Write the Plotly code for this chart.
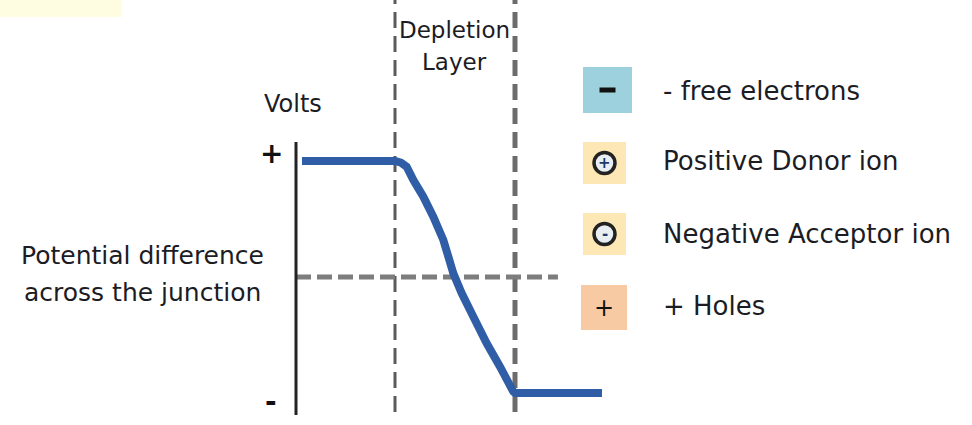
import plotly.graph_objects as go

# ---------------- data ----------------
position = [0.225, 1.0, 1.05, 1.097, 1.153, 1.236, 1.319, 1.403, 1.486, 1.556, 1.653,
            1.764, 1.875, 1.986, 2.0, 2.725]
potential = [1.0, 1.0, 0.985, 0.951, 0.836, 0.692, 0.520, 0.319, 0.032, -0.141, -0.342,
             -0.572, -0.773, -0.989, -1.0, -1.0]
depletion_edges = [1.0, 2.0]
axis_x = 0.175
zero_line_end = 2.358

y_labels = ["+", "-"]
side_label = ["Potential difference", "across the junction"]
axis_title = "Volts"
region_label = ["Depletion", "Layer"]

legend_labels = ["- free electrons", "Positive Donor ion", "Negative Acceptor ion", "+ Holes"]
legend_fills = ["#9ed1de", "#fde7b4", "#fde7b4", "#f7caa4"]
legend_symbols = ["-", "+", "-", "+"]

# ---------------- layout helpers ----------------
W, H = 972, 425
FONT = "DejaVu Sans"
TXT = "#1c1c24"


def fx(p):
    return p / W


def fy(q):
    return 1 - q / H


def label(x, y, text, size, color=TXT, xanchor="center"):
    return dict(xref="paper", yref="paper", x=fx(x), y=fy(y), text=text, showarrow=False,
                xanchor=xanchor, yanchor="middle", font=dict(family=FONT, size=size, color=color))


fig = go.Figure()
fig.add_trace(go.Scatter(
    x=position, y=potential, mode="lines",
    line=dict(color="#2f5da6", width=8, shape="linear", simplify=False),
    hoverinfo="skip", showlegend=False,
))

shapes = []
annotations = []

# top-left pale box
shapes.append(dict(type="rect", xref="paper", yref="paper", x0=0, x1=fx(122), y0=fy(17), y1=1,
                   fillcolor="#fffde1", line=dict(width=0), layer="below"))

# depletion boundaries
for i, xe in enumerate(depletion_edges):
    shapes.append(dict(type="line", xref="x", yref="y", x0=xe, x1=xe, y0=-1.164, y1=2.5,
                       line=dict(color="#5a5a5a" if i == 0 else "#6c6c6c", width=3 if i == 0 else 5,
                                 dash="16px,8px"), layer="below"))

# zero potential line
shapes.append(dict(type="line", xref="x", yref="y", x0=axis_x, x1=zero_line_end, y0=0, y1=0,
                   line=dict(color="#7d7d7d", width=5, dash="15px,6px"), layer="below"))

# vertical axis line
shapes.append(dict(type="line", xref="x", yref="y", x0=axis_x, x1=axis_x, y0=-1.19, y1=1.164,
                   line=dict(color="#222222", width=3)))

# axis labels
annotations.append(label(293, 104, axis_title, 24))
for lab, q in zip(y_labels, [153, 401]):
    annotations.append(label(271, q, "<b>%s</b>" % lab, 28, "#111111"))
for lab, q in zip(side_label, [256, 292]):
    annotations.append(label(142, q, lab, 25))
for lab, q in zip(region_label, [30, 62]):
    annotations.append(label(454, q, lab, 23))

# legend
box_x = [(583, 632), (583, 626), (583, 626), (581, 627)]
box_y = [(67, 113), (142, 184), (213, 255), (285, 330)]
text_y = [91, 161, 234, 306]
for i, (lab, fill, sym) in enumerate(zip(legend_labels, legend_fills, legend_symbols)):
    (a, b), (c, d) = box_x[i], box_y[i]
    shapes.append(dict(type="rect", xref="paper", yref="paper", x0=fx(a), x1=fx(b), y0=fy(d), y1=fy(c),
                       fillcolor=fill, line=dict(width=0), layer="below"))
    cx, cy = (a + b) / 2, (c + d) / 2
    if i in (1, 2):
        r = 10.5
        shapes.append(dict(type="circle", xref="paper", yref="paper",
                           x0=fx(cx - r), x1=fx(cx + r), y0=fy(cy + r), y1=fy(cy - r),
                           fillcolor="#e8eef2", line=dict(color="#222222", width=3.5)))
        annotations.append(label(cx, cy, "<b>%s</b>" % sym, 15, "#1a3a6a"))
    elif i == 0:
        shapes.append(dict(type="rect", xref="paper", yref="paper",
                           x0=fx(cx - 8), x1=fx(cx + 8), y0=fy(cy + 2.5), y1=fy(cy - 2.5),
                           fillcolor="#111111", line=dict(width=0)))
    else:
        annotations.append(label(cx, cy, sym, 24, "#111111"))
    annotations.append(label(661, text_y[i], lab, 26, TXT, xanchor="left"))

# map data coordinates onto the page: 120 px per unit in x, 116 px per unit in y
x_range = [1 - 395 / 120, 1 + (W - 395) / 120]
y_range = [(277 - H) / 116, 277 / 116]

fig.update_layout(
    width=W, height=H, margin=dict(l=0, r=0, t=0, b=0),
    paper_bgcolor="white", plot_bgcolor="white",
    xaxis=dict(range=x_range, visible=False, fixedrange=True),
    yaxis=dict(range=y_range, visible=False, fixedrange=True),
    shapes=shapes, annotations=annotations, showlegend=False,
)

fig.write_html("out.html", config={"displayModeBar": False, "staticPlot": True},
               post_script="document.body.style.margin='0';document.body.style.overflow='hidden';")
